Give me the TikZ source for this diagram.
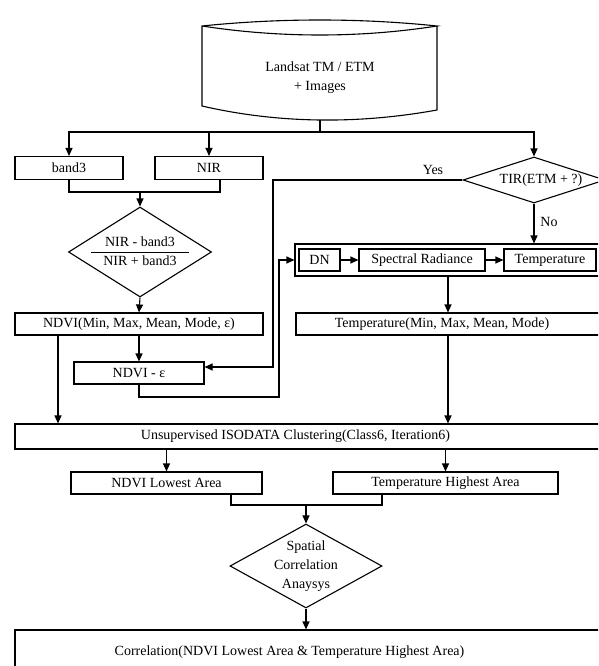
\documentclass[tikz,border=0pt]{standalone}
\usepackage{fontspec}
\setmainfont{Liberation Serif}
\usetikzlibrary{arrows.meta,shapes.geometric}
\begin{document}
\begin{tikzpicture}[x=1pt,y=-1pt,
  every node/.style={font=\fontsize{14}{19}\selectfont, inner sep=0pt},
  box/.style={draw, rectangle, line width=1.1pt, minimum height=22pt},
  dec/.style={draw, diamond, line width=1.1pt},
  con/.style={line width=1.1pt},
  arr/.style={con, -{Triangle[length=8pt,width=7pt]}}]
\path[use as bounding box, clip] (0,0) rectangle (598,666);

% source (cylinder-like)
\draw[con] (202,26) .. controls (280,18) and (360,18) .. (437,26)
  .. controls (360,38) and (280,38) .. (202,26) -- (202,106)
  .. controls (280,124) and (360,124) .. (437,110) -- (437,26);
\node[align=center] (src) at (320,78) {Landsat TM / ETM\\+ Images};

\node[box, minimum width=108pt, minimum height=23pt] (band3) at (69,168) {band3};
\node[box, minimum width=108pt, minimum height=23pt] (nir) at (209,168) {NIR};
\node[dec, minimum width=142pt, minimum height=46pt] (tir) at (534,180) {};
\node (tirt) at (541,180) {TIR(ETM + ?)};
\node[dec, minimum width=143pt, minimum height=90pt] (ratio) at (140,252) {};
\node (ratiot) at (140,252) {\begin{tabular}{@{\hspace{12pt}}c@{\hspace{12pt}}}NIR - band3\\\hline NIR + band3\end{tabular}};

\node[box, minimum width=248pt] (ndvi) at (139,324) {NDVI(Min, Max, Mean, Mode, ε)};
\node[box, minimum width=130pt] (ndvie) at (139,373) {NDVI - ε};

\node[box, minimum width=315pt, minimum height=32pt] (dnout) at (452.5,260) {};
\node[box, minimum width=41pt] (dn) at (319.5,260) {DN};
\node[box, minimum width=126pt] (spec) at (422,260) {Spectral Radiance};
\node[box, minimum width=92pt] (temp) at (550,260) {Temperature};
\node[box, minimum width=314pt, label={[xshift=-11pt]center:Temperature(Min, Max, Mean, Mode)}] (tmin) at (453,324) {};

\node[box, minimum width=595pt, minimum height=25pt, label={[xshift=-17pt]center:Unsupervised ISODATA Clustering(Class6, Iteration6)}] (unsup) at (312.5,436.5) {};
\node[box, minimum width=191pt] (ndvil) at (166.5,483) {NDVI Lowest Area};
\node[box, minimum width=225pt] (temph) at (445.5,483) {Temperature Highest Area};
\node[dec, minimum width=152pt, minimum height=84pt] (spat) at (306,566) {};
\node[align=center] (spatt) at (306,566) {Spatial\\Correlation\\Anaysys};
\node[box, minimum width=595pt, minimum height=44pt, label={[xshift=-23pt]center:Correlation(NDVI Lowest Area \& Temperature Highest Area)}] (corr) at (312.5,652) {};

\node (yes) at (433,170) {Yes};
\node (no) at (549,222) {No};

% helper coordinates
\coordinate (srcb) at (320,120);
\coordinate (split) at (320,132);
\coordinate (m1) at (140,192);
\coordinate (yes2) at (273,367);
\coordinate (c1) at (279,397);
\coordinate (tx) at (448,0);
\coordinate (lx) at (58,0);
\coordinate (lb) at (231,0);
\coordinate (rb) at (382,0);
\coordinate (m2) at (306,505);

% connectors
\draw[con] (srcb) -- (split);
\draw[arr] (split) -| (band3.north);
\draw[arr] (split) -| (nir.north);
\draw[arr] (split) -| (tir.north);
\draw[con] (band3.south) |- (m1);
\draw[con] (m1) -| ([xshift=11pt]nir.south);
\draw[arr] (m1) -- (ratio.north);
\draw[arr] (ratio.south) -- (ndvi.north);
\draw[arr] (ndvi.south) -- (ndvie.north);
\draw[arr] (tir.west) -| (yes2) -- (ndvie.east |- yes2);
\draw[arr] (ndvie.south) |- (c1) |- (dnout.west);
\draw[arr] (tir.south) -- (dnout.north -| tir.south);
\draw[arr] (dn.east) -- (spec.west);
\draw[arr] (spec.east) -- (temp.west);
\draw[arr] (dnout.south -| tx) -- (tmin.north -| tx);
\draw[arr] (tmin.south -| tx) -- (unsup.north -| tx);
\draw[arr] (ndvi.south -| lx) -- (unsup.north -| lx);
\draw[arr] (unsup.south -| ndvil.north) -- (ndvil.north);
\draw[arr] (unsup.south -| temph.north) -- (temph.north);
\draw[con] (ndvil.south -| lb) |- (m2) -| (temph.south -| rb);
\draw[arr] (m2) -- (spat.north);
\draw[arr] (spat.south) -- (corr.north -| spat.south);
\end{tikzpicture}
\end{document}
